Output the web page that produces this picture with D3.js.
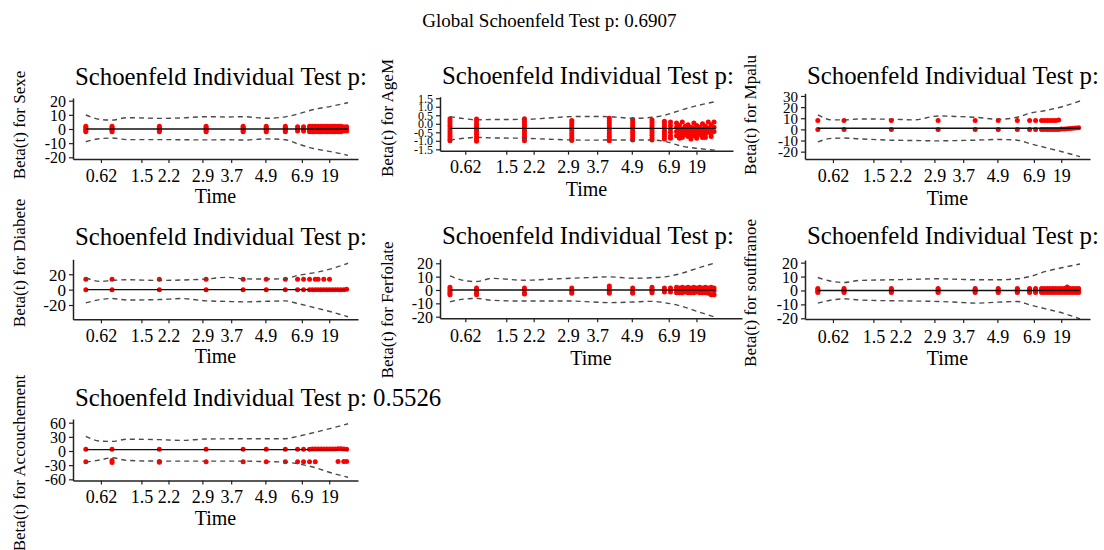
<!DOCTYPE html>
<html><head><meta charset="utf-8">
<script src="https://cdn.jsdelivr.net/npm/d3@7"></script>
<style>
body{margin:0;background:#fff}
text{font-family:"Liberation Serif","Times New Roman",serif;fill:#000}
</style>
</head><body>
<svg id="c" width="1104" height="550"></svg>
<script>
// ---------- data ----------
const globalTitle = "Global Schoenfeld Test p: 0.6907";
const panelTitles = ["Schoenfeld Individual Test p:","Schoenfeld Individual Test p:","Schoenfeld Individual Test p:",
  "Schoenfeld Individual Test p:","Schoenfeld Individual Test p:","Schoenfeld Individual Test p:",
  "Schoenfeld Individual Test p: 0.5526"];
const covariates = ["Sexe","AgeM","Mpalu","Diabete","Ferfolate","souffranoe","Accouchement"];
const xTitle = "Time";
// transformed event times (km scale, 0..1)
const eventTimes = [0.045,0.137,0.303,0.467,0.597,0.678,0.745,0.788,0.809,0.83,0.84,0.85,0.86,0.87,0.88,0.89,0.90,0.91,0.92,0.93,0.94,0.95,0.96];
const xTickPos = [0.098,0.24,0.335,0.454,0.555,0.675,0.803,0.899];
const xTickLabels = ["0.62","1.5","2.2","2.9","3.7","4.9","6.9","19"];
const ciGrid = [0.045,0.095,0.137,0.19,0.305,0.38,0.467,0.54,0.597,0.678,0.745,0.788,0.845,0.905,0.965];

const sexeYTicks = [-20,-10,0,10,20];
const sexeFit   = [0,0,0,0,0,0,0,0,0,0,0,0,0,0,0];
const sexeUpper = [9.9,6.8,6.3,8.0,7.5,7.8,8.7,8.5,8.7,7.6,8.6,10.5,13.8,16.0,18.6];
const sexeLower = [-9.0,-6.8,-6.4,-7.5,-7.5,-7.6,-7.7,-7.6,-7.8,-7.0,-7.6,-10.5,-13.8,-16.0,-18.6];
const sexeResid = [
 [-2,-1,0,1,2],[-2,-1,0,1,2],[-2,-1,0,1,2],[-2,-1,0,1,2],[-2,-1,0,1,2],[-2,-1,0,1,2],[-2,-1,0,1,2],
 [-1.5,0,1.5],[-1.5,0,1.5],
 [-2,-0.7,0.7,2],[-2,-0.7,0.7,2],[-2,-0.7,0.7,2],[-2,-0.7,0.7,2],[-2,-0.7,0.7,2],[-2,-0.7,0.7,2],[-2,-0.7,0.7,2],
 [-2,-0.7,0.7,2],[-2,-0.7,0.7,2],[-2,-0.7,0.7,2],[-2,-0.7,0.7,2],[-2,-0.7,0.7,2],[-1.5,0,1.5],[-1.5,0,1.5]];

const ageYTicks = [-1.5,-1.0,-0.5,0,0.5,1.0,1.5];
const ageFit   = [-0.27,-0.27,-0.27,-0.27,-0.27,-0.27,-0.27,-0.27,-0.27,-0.27,-0.27,-0.27,-0.27,-0.27,-0.27];
const ageUpper = [0.42,0.3,0.23,0.25,0.26,0.33,0.42,0.43,0.42,0.32,0.38,0.5,0.8,1.08,1.3];
const ageLower = [-0.95,-0.85,-0.8,-0.83,-0.85,-0.9,-0.95,-0.96,-0.95,-0.95,-0.95,-1.03,-1.3,-1.45,-1.55];
const ageResid = [
 [0.3,0.15,0,-0.15,-0.3,-0.45,-0.6,-0.75,-0.9,-1.0],
 [0.28,0.13,-0.02,-0.17,-0.32,-0.47,-0.62,-0.77,-0.92,-1.02],
 [0.3,0.15,0,-0.15,-0.3,-0.45,-0.6,-0.75,-0.9,-1.0],
 [0.2,0.05,-0.1,-0.25,-0.4,-0.55,-0.7,-0.85,-0.98],
 [0.32,0.17,0.02,-0.13,-0.28,-0.43,-0.58,-0.73,-0.88,-1.0],
 [0.25,0.1,-0.05,-0.2,-0.35,-0.5,-0.65,-0.8,-0.95],
 [0.22,0.07,-0.08,-0.23,-0.38,-0.53,-0.68,-0.83,-0.95],
 [0.15,0,-0.15,-0.3,-0.45,-0.6,-0.75,-0.9],
 [0.1,-0.1,-0.3,-0.5,-0.7,-0.85],
 [0.05,-0.2,-0.45,-0.7],[-0.1,-0.35,-0.6,-0.85],[0.1,-0.3,-0.55,-0.8],[-0.15,-0.4,-0.65],
 [-0.05,-0.3,-0.5,-0.75],[-0.2,-0.45,-0.7,-0.9],[0.05,-0.25,-0.5,-0.7],[-0.1,-0.4,-0.6,-0.85],
 [-0.2,-0.45,-0.65],[0.0,-0.3,-0.55,-0.8],[-0.15,-0.4,-0.6,-0.8],[0.1,-0.25,-0.5],[-0.05,-0.35,-0.55,-0.75],[0.1,-0.2,-0.45]];

const mpaluYTicks = [-20,-10,0,10,20,30];
const mpaluFit   = [1,1,1,1,1,1,1,1,1,1,1,1,1,1,1];
const mpaluUpper = [13,8.5,8.5,9.3,9.1,8.5,12,11.5,10.9,9.1,10.9,14.5,17,20.6,25.5];
const mpaluLower = [-11.2,-8,-7.8,-8.5,-9.7,-10,-10.3,-10,-9.7,-9.1,-9.7,-12.7,-16.4,-20.3,-24.5];
const mpaluResid = [
 [0,8],[0,8],[0,8],[0,8],[0,8],[0,8],[0,8],[0,8],[0,8],
 [0,8],[0,8],[0,8],[0,8],[0,8],[0,8],[0,8.5],
 [0.3],[0.3],[0.5],[0.8],[1],[1.3],[1.5]];

const diabYTicks = [-20,0,20];
const diabFit   = [0,0,0,0,0,0,0,0,0,0,0,0,0,0,0];
const diabUpper = [15.5,10.8,12,12.9,12,12.5,13.8,16,14.2,13.8,14.2,18.5,21.9,27,34.4];
const diabLower = [-17.2,-12.9,-11.6,-13.5,-12.9,-11.6,-14.6,-15.3,-15.9,-15.2,-14.6,-18,-23.2,-28.8,-35.3];
const diabResid = [
 [0,13.5],[0,13.5],[0,13.5],[0,13.5],[0,13.5],[0,13.5],[0,13.5],[0,13.5],[0,13.5],
 [0,13.5],[0],[0,13.5],[0,13.5],[0],[0,13.5],[0],[0,13.5],[0],[0],[0],[0],[0],[0.5]];

const ferYTicks = [-20,-10,0,10,20];
const ferFit   = [0,0,0,0,0,0,0,0,0,0,0,0,0,0,0];
const ferUpper = [10.5,7,6.3,8.7,7.3,8,8.8,9.4,9.8,8.8,9.2,9.8,12.3,16.5,20.3];
const ferLower = [-8.8,-6.8,-6.3,-7.7,-8.3,-8.3,-8.3,-9,-9.5,-9,-8.5,-9.5,-12,-16.3,-20.5];
const ferResid = [
 [2,0.5,-1,-2.5,-3.5],[1.5,0,-2,-3.5],[1.5,0.5,-2,-3],[1.5,-1,-2.5],[3,1.5,-1,-2.5],
 [1.5,-1.5,-2.5],[2,0.5,-1,-2],[1.5,0,-1.5],[1.5,0,-1.5],
 [2,0,-2],[1.5,-0.5,-2],[2,0,-2],[1.5,0,-1.5],[2,0,-2],[1.5,-0.5,-2],[2,0,-2],
 [1.5,0,-1.5],[2,0,-2],[1.5,0,-2],[2,0,-2],[1.5,-0.5,-2.5],[2,0,-3.5],[1.5,-0.5,-3.5]];

const soufYTicks = [-20,-10,0,10,20];
const soufFit   = [0,0,0,0,0,0,0,0,0,0,0,0,0,0,0];
const soufUpper = [9.3,6.5,5.7,7.2,7.7,8,8.4,8,7.7,7.7,8.4,10,13.7,16.5,19];
const soufLower = [-9.1,-6.8,-6,-6.8,-7.4,-7.6,-7.9,-8.5,-9.1,-8.4,-7.9,-10.3,-13.2,-16.3,-20.4];
const soufResid = [
 [-1.5,-0.5,0.5,1.5],[-1.5,-0.5,0.5,1.5],[-1.5,-0.5,0.5,1.5],[-1.5,-0.5,0.5,1.5],[-1.5,-0.5,0.5,1.5],
 [-1.5,-0.5,0.5,1.5],[-1.5,-0.5,0.5,1.5],[-1.5,-0.5,0.5,1.5],[-1.5,-0.5,0.5,1.5],
 [-1.5,0,1.5],[-1.5,0,1.5],[-1.5,0,1.5],[-1.5,0,1.5],[-1.5,0,1.5],[-1.5,0,1.5],[-1.5,0,1.5],
 [-1.5,0,1.5],[-1.5,0,1.5],[-1.5,0,1.5,2.5],[-1.5,0,1.5],[-1.5,0,1.5],[-1.5,0,1.5],[-1.5,0,1.5]];

const accYTicks = [-60,-30,0,30,60];
const accFit   = [3,3,3,3,3,3,3,3,3,3,3,3,3,3,3];
const accUpper = [31,21,20.4,25,24,22.5,25.4,25.8,26,26,26,31,39,48,57.7];
const accLower = [-23.6,-19,-14.3,-20,-21.4,-21.4,-21.4,-21.4,-21.4,-22.5,-23.6,-27,-34.5,-46,-55.7];
const accResid = [
 [3.5,-23],[3.5,-20,-24.5],[3.5,-22,-24],[3.5,-23],[3.5,-23],[3.5,-23],[3.5,-23],[3.5,-23],[3.5,-23],
 [3.5,-23],[4],[4,-23],[4.5],[4.5],[4.5],[4.5],[4.5],[4.5],[4.5],[5,-22],[5],[4.5,-22],[3.5,-22]];

// ---------- layout ----------
const layout = [
 {x0:73, xu:285, axL:73, axR:358, yT:98, yB:159, dom:[-21.2,21.9], titleY:85, tickY:181.7, timeY:203, labX:25, labY:125, yfs:16},
 {x0:437, xu:288.6, axL:440, axR:733, yT:96.7, yB:150.7, dom:[-1.58,1.59], titleY:84, tickY:173, timeY:196, labX:393, labY:118, yfs:12},
 {x0:805, xu:285, axL:805, axR:1090, yT:93.3, yB:159, dom:[-26.6,32.4], titleY:84, tickY:181.7, timeY:205, labX:756, labY:115, yfs:15},
 {x0:73, xu:285, axL:73, axR:358, yT:259.3, yB:319.3, dom:[-38.6,39.5], titleY:245, tickY:341.7, timeY:363, labX:25, labY:263, yfs:17},
 {x0:437, xu:288.6, axL:440, axR:742, yT:259, yB:318.3, dom:[-21.2,23.2], titleY:244, tickY:341.7, timeY:365, labX:393, labY:310, yfs:16},
 {x0:805, xu:285, axL:805, axR:1090, yT:260, yB:319, dom:[-20.5,21.9], titleY:244, tickY:343, timeY:365, labX:756, labY:293, yfs:16},
 {x0:73, xu:285, axL:73, axR:358, yT:419, yB:480.5, dom:[-62.5,67.8], titleY:406, tickY:503, timeY:525, labX:25, labY:463, yfs:16}
];
const series = [
 {ticks:sexeYTicks, fit:sexeFit, up:sexeUpper, lo:sexeLower, res:sexeResid, fmt:d3.format("d")},
 {ticks:ageYTicks, fit:ageFit, up:ageUpper, lo:ageLower, res:ageResid, fmt:d3.format(".1f")},
 {ticks:mpaluYTicks, fit:mpaluFit, up:mpaluUpper, lo:mpaluLower, res:mpaluResid, fmt:d3.format("d")},
 {ticks:diabYTicks, fit:diabFit, up:diabUpper, lo:diabLower, res:diabResid, fmt:d3.format("d")},
 {ticks:ferYTicks, fit:ferFit, up:ferUpper, lo:ferLower, res:ferResid, fmt:d3.format("d")},
 {ticks:soufYTicks, fit:soufFit, up:soufUpper, lo:soufLower, res:soufResid, fmt:d3.format("d")},
 {ticks:accYTicks, fit:accFit, up:accUpper, lo:accLower, res:accResid, fmt:d3.format("d")}
];

const svg = d3.select("#c");
svg.append("text").attr("x",549.5).attr("y",27).attr("text-anchor","middle")
  .style("font-size","19px").text(globalTitle);

const hy = s => s.replace("\u2212","-");

series.forEach((s,k) => {
  const L = layout[k];
  const g = svg.append("g");
  const x = d3.scaleLinear()
    .domain([(L.axL-L.x0)/L.xu,(L.axR-L.x0)/L.xu]).range([L.axL,L.axR]);
  const y = d3.scaleLinear().domain(L.dom).range([L.yB,L.yT]);

  const pts = [];
  eventTimes.forEach((t,i) => s.res[i].forEach(v => pts.push([t,v])));
  g.append("g").selectAll("circle").data(pts).join("circle")
    .attr("cx",d=>x(d[0])).attr("cy",d=>y(d[1])).attr("r",2.5).attr("fill","#ff0000");

  const line = d3.line().x((d,i)=>x(ciGrid[i])).y(d=>y(d)).curve(d3.curveMonotoneX);
  [s.up,s.lo].forEach(arr => g.append("path").attr("d",line(arr)).attr("fill","none")
    .attr("stroke","#4a4a4a").attr("stroke-width",1.4).attr("stroke-dasharray","5,4"));
  g.append("path").attr("d",line(s.fit)).attr("fill","none").attr("stroke","#111").attr("stroke-width",1.4);

  const xa = g.append("g").attr("transform",`translate(0,${L.yB})`)
    .call(d3.axisBottom(x).tickValues(xTickPos).tickFormat((d,i)=>xTickLabels[i]).tickSize(4).tickSizeOuter(0));
  const ya = g.append("g").attr("transform",`translate(${L.axL},0)`)
    .call(d3.axisLeft(y).tickValues(s.ticks).tickFormat(d=>hy(s.fmt(d))).tickSize(4).tickSizeOuter(0));
  [xa,ya].forEach(a => {
    a.attr("font-family",null).attr("font-size",null);
    a.select(".domain").attr("stroke","#222").attr("stroke-width",1.5);
    a.selectAll(".tick line").attr("stroke","#222").attr("stroke-width",1.2);
    a.selectAll("text").attr("fill","#000");
  });
  xa.selectAll("text").style("font-size","18px").attr("y",L.tickY-L.yB).attr("dy",null);
  ya.selectAll("text").style("font-size",L.yfs+"px").attr("x",-7).attr("dy","0.34em");

  g.append("text").attr("x",L.axL+2).attr("y",L.titleY).style("font-size","24.8px").text(panelTitles[k]);
  g.append("text").attr("x",(L.axL+L.axR)/2).attr("y",L.timeY).attr("text-anchor","middle")
    .style("font-size","20px").text(xTitle);
  g.append("text").attr("transform",`translate(${L.labX},${L.labY}) rotate(-90)`)
    .attr("text-anchor","middle").style("font-size","17px").text("Beta(t) for " + covariates[k]);
});
</script>
</body></html>
